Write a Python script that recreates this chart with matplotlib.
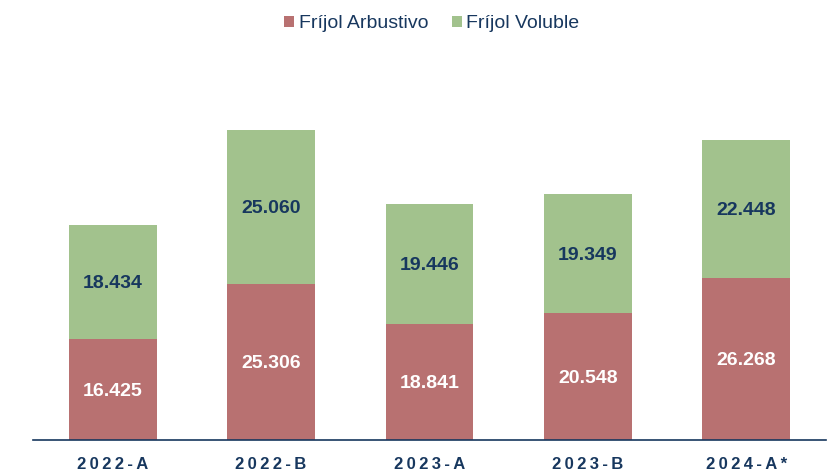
import matplotlib.pyplot as plt
import numpy as np

plt.rcParams['font.family'] = ['Liberation Sans', 'DejaVu Sans']

periodos = ['2022-A', '2022-B', '2023-A', '2023-B', '2024-A*']
arbustivo = [16.425, 25.306, 18.841, 20.548, 26.268]
voluble = [18.434, 25.060, 19.446, 19.349, 22.448]

rojo = '#B87171'
verde = '#A2C28D'
azul = '#17375E'

fig = plt.figure(figsize=(8.34, 4.71), dpi=100)
ax = fig.add_axes([0.04, 0.066, 0.95, 0.785])

x = np.arange(len(periodos))
b1 = ax.bar(x, arbustivo, width=0.555, color=rojo, label='Fríjol Arbustivo')
b2 = ax.bar(x, voluble, width=0.555, bottom=arbustivo, color=verde, label='Fríjol Voluble')

def fmt(v):
    return f'{v:.3f}'

for i in range(len(x)):
    ax.text(x[i], arbustivo[i] / 2, fmt(arbustivo[i]), ha='center', va='center_baseline',
            color='white', fontsize=14, fontweight='bold')
    ax.text(x[i], arbustivo[i] + voluble[i] / 2, fmt(voluble[i]), ha='center', va='center_baseline',
            color=azul, fontsize=14, fontweight='bold')

ax.set_xlim(-0.5, len(x) - 0.5)
ax.set_ylim(0, 60)
ax.set_yticks([])
for s in ['top', 'right', 'left']:
    ax.spines[s].set_visible(False)
ax.spines['bottom'].set_color(azul)
ax.spines['bottom'].set_linewidth(1.2)

ax.set_xticks(x)
ax.set_xticklabels(['\u2009'.join(p) for p in periodos], fontsize=12, fontweight='bold', color=azul)
ax.tick_params(axis='x', length=0, pad=12)

fig.legend(handles=[b1, b2], loc='upper center', bbox_to_anchor=(0.518, 1.005), ncol=2,
           frameon=False, fontsize=14, handlelength=0.5, handleheight=0.5,
           handletextpad=0.25, columnspacing=1.2, labelcolor=azul)

fig.savefig('out.png', dpi=100)
